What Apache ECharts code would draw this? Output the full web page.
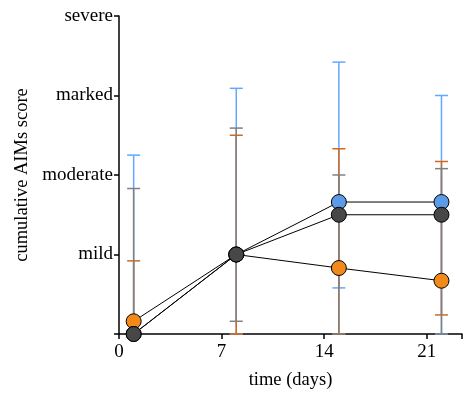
<!DOCTYPE html>
<html>
<head>
<meta charset="utf-8">
<script src="https://cdn.jsdelivr.net/npm/echarts@6/dist/echarts.min.js"></script>
<style>
  html, body { margin: 0; padding: 0; background: #fff; }
  #chart { width: 465px; height: 398px; }
</style>
</head>
<body>
<div id="chart"></div>
<script>
  // días de medición
  const days = [1, 8, 15, 22];
  const severityLabels = ['', 'mild', 'moderate', 'marked', 'severe'];
  const xTicks = [0, 7, 14, 21];

  // serie azul
  const blueMean = [0, 1, 1.66, 1.66];
  const blueLow = [0, 0, 0.58, 0];
  const blueHigh = [2.25, 3.09, 3.42, 3.0];

  // serie naranja
  const orangeMean = [0.16, 1, 0.83, 0.67];
  const orangeLow = [0, 0, 0, 0.24];
  const orangeHigh = [0.92, 2.5, 2.33, 2.17];

  // serie gris
  const grayMean = [0, 1, 1.5, 1.5];
  const grayLow = [0, 0.16, 0, 0];
  const grayHigh = [1.83, 2.59, 2.0, 2.08];

  const font = 'Liberation Serif';

  // barras de error con custom series
  function errorSeries(low, high, color) {
    return {
      type: 'custom',
      data: days.map((d, i) => [d, low[i], high[i]]),
      z: 2,
      silent: true,
      renderItem: function (params, api) {
        const x = api.value(0);
        const lo = api.coord([x, api.value(1)]);
        const hi = api.coord([x, api.value(2)]);
        const hw = 6.5;
        const style = { stroke: color, lineWidth: 1.5, fill: null };
        return {
          type: 'group',
          children: [
            { type: 'line', shape: { x1: lo[0], y1: lo[1], x2: hi[0], y2: hi[1] }, style: style },
            { type: 'line', shape: { x1: hi[0] - hw, y1: hi[1], x2: hi[0] + hw, y2: hi[1] }, style: style },
            { type: 'line', shape: { x1: lo[0] - hw, y1: lo[1], x2: lo[0] + hw, y2: lo[1] }, style: style }
          ]
        };
      }
    };
  }

  function meanSeries(values, fill, z) {
    return {
      type: 'line',
      data: days.map((d, i) => [d, values[i]]),
      symbol: 'circle',
      symbolSize: 15,
      z: z,
      lineStyle: { color: '#000', width: 1 },
      itemStyle: { color: fill, borderColor: '#000', borderWidth: 1 },
      emphasis: { disabled: true }
    };
  }

  const chart = echarts.init(document.getElementById('chart'));
  const option = {
    animation: false,
    grid: { left: 119, right: 1, top: 16, bottom: 64 },
    xAxis: {
      type: 'value',
      min: 0,
      max: 23.4,
      interval: 7,
      name: 'time (days)',
      nameLocation: 'middle',
      nameGap: 37,
      nameTextStyle: { fontFamily: font, fontSize: 18.5, color: '#000' },
      axisLine: { lineStyle: { color: '#000', width: 1.5 } },
      axisTick: { lineStyle: { color: '#000', width: 1.5 }, length: 5 },
      axisLabel: {
        fontFamily: font, fontSize: 19, color: '#000', margin: 9,
        formatter: v => (xTicks.includes(v) ? String(v) : '')
      },
      splitLine: { show: false }
    },
    yAxis: {
      type: 'value',
      min: 0,
      max: 4,
      interval: 1,
      name: 'cumulative AIMs score',
      nameLocation: 'middle',
      nameGap: 85,
      nameTextStyle: { fontFamily: font, fontSize: 18.5, color: '#000' },
      axisLine: { show: true, lineStyle: { color: '#000', width: 1.5 } },
      axisTick: { show: true, lineStyle: { color: '#000', width: 1.5 }, length: 5 },
      axisLabel: {
        fontFamily: font, fontSize: 19, color: '#000', margin: 6,
        formatter: v => severityLabels[v]
      },
      splitLine: { show: false }
    },
    series: [
      errorSeries(blueLow, blueHigh, '#62a8ff'),
      errorSeries(orangeLow, orangeHigh, '#d0691c'),
      errorSeries(grayLow, grayHigh, '#808080'),
      meanSeries(orangeMean, '#f28a1b', 5),
      meanSeries(blueMean, '#5b9be8', 6),
      meanSeries(grayMean, '#474747', 7)
    ]
  };
  chart.setOption(option);
</script>
</body>
</html>
